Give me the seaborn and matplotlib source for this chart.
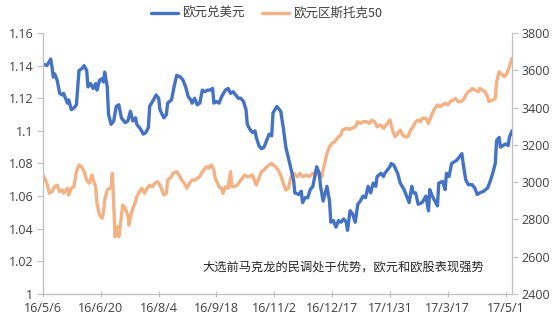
import matplotlib
matplotlib.use("Agg")
import matplotlib.pyplot as plt
import seaborn as sns
import pandas as pd
from matplotlib.lines import Line2D

# ---------------- data ----------------
eur_dates = [
    "2016-05-06", "2016-05-09", "2016-05-12", "2016-05-13", "2016-05-14", "2016-05-15", "2016-05-17",
    "2016-05-19", "2016-05-21", "2016-05-22", "2016-05-25", "2016-05-26", "2016-05-28", "2016-05-30",
    "2016-06-01", "2016-06-03", "2016-06-05", "2016-06-07", "2016-06-09", "2016-06-10", "2016-06-12",
    "2016-06-14", "2016-06-16", "2016-06-17", "2016-06-19", "2016-06-21", "2016-06-22", "2016-06-23",
    "2016-06-25", "2016-06-26", "2016-06-28", "2016-06-30", "2016-07-02", "2016-07-04", "2016-07-06",
    "2016-07-09", "2016-07-11", "2016-07-13", "2016-07-15", "2016-07-17", "2016-07-18", "2016-07-21",
    "2016-07-23", "2016-07-25", "2016-07-27", "2016-07-28", "2016-07-31", "2016-08-02", "2016-08-04",
    "2016-08-05", "2016-08-08", "2016-08-10", "2016-08-11", "2016-08-14", "2016-08-16", "2016-08-18",
    "2016-08-21", "2016-08-23", "2016-08-25", "2016-08-27", "2016-08-29", "2016-08-30", "2016-09-01",
    "2016-09-03", "2016-09-05", "2016-09-07", "2016-09-09", "2016-09-11", "2016-09-13", "2016-09-15",
    "2016-09-16", "2016-09-18", "2016-09-20", "2016-09-22", "2016-09-25", "2016-09-27", "2016-09-29",
    "2016-10-01", "2016-10-03", "2016-10-05", "2016-10-07", "2016-10-09", "2016-10-11", "2016-10-12",
    "2016-10-14", "2016-10-16", "2016-10-18", "2016-10-19", "2016-10-21", "2016-10-23", "2016-10-25",
    "2016-10-26", "2016-10-29", "2016-10-31", "2016-11-01", "2016-11-04", "2016-11-07", "2016-11-09",
    "2016-11-11", "2016-11-14", "2016-11-17", "2016-11-18", "2016-11-21", "2016-11-23", "2016-11-24",
    "2016-11-26", "2016-11-28", "2016-11-30", "2016-12-02", "2016-12-04", "2016-12-05", "2016-12-07",
    "2016-12-08", "2016-12-10", "2016-12-12", "2016-12-13", "2016-12-15", "2016-12-16", "2016-12-18",
    "2016-12-20", "2016-12-22", "2016-12-24", "2016-12-26", "2016-12-28", "2016-12-29", "2016-12-31",
    "2017-01-02", "2017-01-04", "2017-01-06", "2017-01-08", "2017-01-10", "2017-01-12", "2017-01-14",
    "2017-01-16", "2017-01-18", "2017-01-20", "2017-01-21", "2017-01-24", "2017-01-26", "2017-01-27",
    "2017-01-29", "2017-01-31", "2017-02-01", "2017-02-03", "2017-02-06", "2017-02-08", "2017-02-11",
    "2017-02-13", "2017-02-15", "2017-02-17", "2017-02-18", "2017-02-20", "2017-02-22", "2017-02-25",
    "2017-02-28", "2017-03-02", "2017-03-03", "2017-03-05", "2017-03-07", "2017-03-09", "2017-03-10",
    "2017-03-13", "2017-03-15", "2017-03-16", "2017-03-18", "2017-03-20", "2017-03-22", "2017-03-24",
    "2017-03-26", "2017-03-28", "2017-03-29", "2017-03-31", "2017-04-02", "2017-04-05", "2017-04-07",
    "2017-04-09", "2017-04-11", "2017-04-14", "2017-04-17", "2017-04-19", "2017-04-21", "2017-04-23",
    "2017-04-24", "2017-04-26", "2017-04-27", "2017-04-29", "2017-05-01", "2017-05-03", "2017-05-04",
    "2017-05-06",
]
eur_usd = [
    1.141, 1.140, 1.144, 1.139, 1.133, 1.135, 1.131,
    1.123, 1.122, 1.123, 1.117, 1.119, 1.113, 1.114,
    1.116, 1.137, 1.138, 1.140, 1.137, 1.127, 1.129,
    1.126, 1.129, 1.125, 1.131, 1.132, 1.130, 1.136,
    1.127, 1.110, 1.104, 1.106, 1.115, 1.116, 1.108,
    1.105, 1.106, 1.112, 1.106, 1.108, 1.104, 1.101,
    1.098, 1.099, 1.102, 1.115, 1.119, 1.122, 1.120,
    1.113, 1.108, 1.110, 1.117, 1.119, 1.127, 1.134,
    1.133, 1.131, 1.127, 1.121, 1.119, 1.117, 1.120,
    1.116, 1.117, 1.125, 1.124, 1.125, 1.125, 1.126,
    1.117, 1.118, 1.117, 1.121, 1.125, 1.126, 1.123,
    1.124, 1.122, 1.120, 1.120, 1.118, 1.113, 1.104,
    1.101, 1.099, 1.100, 1.096, 1.091, 1.089, 1.090,
    1.092, 1.098, 1.097, 1.111, 1.115, 1.112, 1.102,
    1.090, 1.080, 1.070, 1.062, 1.061, 1.063, 1.056,
    1.059, 1.059, 1.064, 1.066, 1.074, 1.078, 1.074,
    1.066, 1.057, 1.063, 1.066, 1.057, 1.044, 1.045,
    1.041, 1.045, 1.044, 1.046, 1.044, 1.039, 1.051,
    1.049, 1.044, 1.055, 1.057, 1.060, 1.059, 1.066,
    1.062, 1.068, 1.066, 1.072, 1.074, 1.072, 1.074,
    1.076, 1.078, 1.080, 1.079, 1.074, 1.068, 1.064,
    1.060, 1.056, 1.066, 1.062, 1.062, 1.055, 1.056,
    1.060, 1.051, 1.064, 1.060, 1.057, 1.054, 1.068,
    1.069, 1.064, 1.074, 1.072, 1.080, 1.081, 1.082,
    1.084, 1.086, 1.080, 1.070, 1.067, 1.067, 1.065,
    1.061, 1.062, 1.063, 1.065, 1.069, 1.074, 1.080,
    1.094, 1.096, 1.090, 1.091, 1.092, 1.091, 1.096,
    1.100,
]

stoxx_dates = [
    "2016-05-06", "2016-05-09", "2016-05-11", "2016-05-13", "2016-05-15", "2016-05-17", "2016-05-19",
    "2016-05-21", "2016-05-22", "2016-05-25", "2016-05-26", "2016-05-28", "2016-05-30", "2016-06-01",
    "2016-06-03", "2016-06-05", "2016-06-07", "2016-06-09", "2016-06-11", "2016-06-13", "2016-06-14",
    "2016-06-16", "2016-06-17", "2016-06-19", "2016-06-21", "2016-06-22", "2016-06-23", "2016-06-25",
    "2016-06-27", "2016-06-28", "2016-06-29", "2016-06-30", "2016-07-01", "2016-07-03", "2016-07-04",
    "2016-07-06", "2016-07-07", "2016-07-09", "2016-07-11", "2016-07-12", "2016-07-13", "2016-07-15",
    "2016-07-17", "2016-07-18", "2016-07-20", "2016-07-22", "2016-07-24", "2016-07-26", "2016-07-28",
    "2016-07-30", "2016-08-01", "2016-08-03", "2016-08-05", "2016-08-08", "2016-08-10", "2016-08-11",
    "2016-08-14", "2016-08-15", "2016-08-18", "2016-08-20", "2016-08-22", "2016-08-24", "2016-08-26",
    "2016-08-28", "2016-08-30", "2016-09-01", "2016-09-03", "2016-09-05", "2016-09-07", "2016-09-09",
    "2016-09-11", "2016-09-12", "2016-09-14", "2016-09-16", "2016-09-17", "2016-09-19", "2016-09-20",
    "2016-09-22", "2016-09-23", "2016-09-25", "2016-09-27", "2016-09-29", "2016-09-30", "2016-10-02",
    "2016-10-04", "2016-10-06", "2016-10-08", "2016-10-10", "2016-10-12", "2016-10-13", "2016-10-16",
    "2016-10-18", "2016-10-19", "2016-10-21", "2016-10-23", "2016-10-25", "2016-10-26", "2016-10-29",
    "2016-10-31", "2016-11-01", "2016-11-03", "2016-11-05", "2016-11-07", "2016-11-09", "2016-11-11",
    "2016-11-13", "2016-11-15", "2016-11-17", "2016-11-20", "2016-11-22", "2016-11-24", "2016-11-27",
    "2016-11-29", "2016-12-02", "2016-12-05", "2016-12-07", "2016-12-09", "2016-12-10", "2016-12-13",
    "2016-12-15", "2016-12-17", "2016-12-19", "2016-12-20", "2016-12-22", "2016-12-24", "2016-12-25",
    "2016-12-28", "2016-12-31", "2017-01-01", "2017-01-04", "2017-01-06", "2017-01-08", "2017-01-10",
    "2017-01-13", "2017-01-15", "2017-01-17", "2017-01-19", "2017-01-21", "2017-01-24", "2017-01-26",
    "2017-01-28", "2017-01-31", "2017-02-02", "2017-02-04", "2017-02-06", "2017-02-08", "2017-02-10",
    "2017-02-12", "2017-02-14", "2017-02-16", "2017-02-18", "2017-02-20", "2017-02-22", "2017-02-24",
    "2017-02-25", "2017-02-28", "2017-03-02", "2017-03-03", "2017-03-05", "2017-03-07", "2017-03-09",
    "2017-03-11", "2017-03-13", "2017-03-15", "2017-03-17", "2017-03-19", "2017-03-21", "2017-03-23",
    "2017-03-25", "2017-03-27", "2017-03-29", "2017-03-31", "2017-04-02", "2017-04-04", "2017-04-05",
    "2017-04-07", "2017-04-10", "2017-04-11", "2017-04-13", "2017-04-15", "2017-04-17", "2017-04-18",
    "2017-04-21", "2017-04-23", "2017-04-24", "2017-04-26", "2017-04-27", "2017-04-29", "2017-04-30",
    "2017-05-02", "2017-05-04", "2017-05-06",
]
stoxx50 = [
    3038, 2994, 2940, 2949, 2975, 2984, 2949,
    2958, 2940, 2967, 2931, 2967, 2975, 3056,
    3092, 3083, 3056, 3011, 2994, 3038, 3011,
    2975, 2886, 2824, 2806, 2833, 2904, 2958,
    2967, 2975, 3047, 2886, 2707, 2761, 2707,
    2814, 2877, 2860, 2824, 2770, 2814, 2860,
    2895, 2922, 2949, 2967, 2940, 2967, 2984,
    2975, 2994, 3002, 2984, 2931, 2940, 3011,
    3029, 3047, 3056, 3038, 3011, 2994, 2967,
    2994, 3011, 3011, 3020, 3029, 3056, 3074,
    3083, 3074, 3092, 3065, 3020, 2994, 2975,
    2967, 2940, 2975, 2967, 3056, 2975, 2975,
    2984, 3002, 3020, 3038, 3029, 3029, 3038,
    3002, 2984, 3020, 3056, 3065, 3074, 3092,
    3101, 3092, 3083, 3065, 3038, 2994, 2958,
    2967, 3029, 3047, 3029, 3047, 3029, 3038,
    3029, 3047, 3038, 3047, 3029, 3065, 3154,
    3190, 3208, 3217, 3226, 3243, 3253, 3279,
    3288, 3283, 3288, 3297, 3324, 3315, 3324,
    3324, 3315, 3333, 3324, 3297, 3306, 3288,
    3306, 3333, 3279, 3243, 3261, 3279, 3252,
    3243, 3243, 3279, 3297, 3324, 3333, 3324,
    3342, 3342, 3315, 3333, 3369, 3396, 3414,
    3405, 3414, 3423, 3414, 3432, 3440, 3449,
    3432, 3432, 3440, 3467, 3485, 3494, 3503,
    3494, 3485, 3503, 3494, 3485, 3458, 3432,
    3440, 3449, 3538, 3592, 3583, 3574, 3565,
    3583, 3619, 3664,
]

x_start, x_end = "2016-05-06", "2017-05-06"
tick_dates = ["2016-05-06", "2016-06-20", "2016-08-04", "2016-09-18", "2016-11-02",
              "2016-12-17", "2017-01-31", "2017-03-17", "2017-05-01"]
tick_labels = ["16/5/6", "16/6/20", "16/8/4", "16/9/18", "16/11/2",
               "16/12/17", "17/1/31", "17/3/17", "17/5/1"]
left_ticks = [1.0, 1.02, 1.04, 1.06, 1.08, 1.1, 1.12, 1.14, 1.16]
left_labels = ["1", "1.02", "1.04", "1.06", "1.08", "1.1", "1.12", "1.14", "1.16"]
right_ticks = [2400, 2600, 2800, 3000, 3200, 3400, 3600, 3800]

series_names = ["欧元兑美元", "欧元区斯托克50"]
note = "大选前马克龙的民调处于优势，欧元和欧股表现强势"

# ---------------- style ----------------
sns.set_style("white")
plt.rcParams["font.family"] = ["Noto Sans CJK SC", "DejaVu Sans"]

blue = "#4472C4"
orange = "#F4B183"
tick_col = "#404040"
spine_col = "#BFBFBF"

df_eur = pd.DataFrame({"date": pd.to_datetime(eur_dates), "v": eur_usd})
df_stx = pd.DataFrame({"date": pd.to_datetime(stoxx_dates), "v": stoxx50})

fig = plt.figure(figsize=(5.55, 3.19), dpi=100)
ax = fig.add_axes([0.0775, 0.0784, 0.8450, 0.8182])
ax2 = ax.twinx()

sns.lineplot(data=df_stx, x="date", y="v", ax=ax2, color=orange, linewidth=2.4)
sns.lineplot(data=df_eur, x="date", y="v", ax=ax, color=blue, linewidth=2.4)
for a in (ax, ax2):
    for ln in a.lines:
        ln.set_solid_joinstyle("round")
        ln.set_solid_capstyle("round")
ax.set_zorder(ax2.get_zorder() + 1)
ax.patch.set_visible(False)

ax.set_xlim(pd.Timestamp(x_start), pd.Timestamp(x_end))
ax.set_ylim(1.0, 1.16)
ax2.set_ylim(2400, 3800)

ax.set_xticks(pd.to_datetime(tick_dates))
ax.set_xticklabels(tick_labels)
ax.set_yticks(left_ticks)
ax.set_yticklabels(left_labels)
ax2.set_yticks(right_ticks)
ax2.set_yticklabels([str(t) for t in right_ticks])

for a in (ax, ax2):
    a.set_xlabel("")
    a.set_ylabel("")
    a.spines["top"].set_visible(False)
    for s in ("left", "right", "bottom"):
        a.spines[s].set_color(spine_col)
        a.spines[s].set_linewidth(0.9)
ax.spines["right"].set_visible(False)
ax2.spines["left"].set_visible(False)
ax2.spines["bottom"].set_visible(False)

tick_font = ["Open Sans", "DejaVu Sans"]
ax.tick_params(axis="y", direction="out", length=4, width=0.8, color=spine_col,
               labelsize=9, labelcolor=tick_col, pad=3, left=True)
ax.tick_params(axis="x", direction="inout", length=5, width=0.8, color=spine_col,
               labelsize=9, labelcolor=tick_col, pad=3, bottom=True)
ax2.tick_params(axis="y", direction="out", length=4, width=0.8, color=spine_col,
                labelsize=9, labelcolor=tick_col, pad=3, right=True)
for lab in ax.get_xticklabels() + ax.get_yticklabels() + ax2.get_yticklabels():
    lab.set_family(tick_font)

handles = [Line2D([], [], color=blue, linewidth=2.4),
           Line2D([], [], color=orange, linewidth=2.4)]
fig.legend(handles, series_names, loc="center", bbox_to_anchor=(0.48, 0.958),
           ncol=2, frameon=False, fontsize=9, handlelength=2.2, handletextpad=0.3,
           columnspacing=1.4, labelcolor=tick_col)

ax.text(0.341, 0.103, note, transform=ax.transAxes, fontsize=8.8,
        color="#262626", ha="left", va="center")

fig.savefig("out.png", dpi=100, facecolor="white")
